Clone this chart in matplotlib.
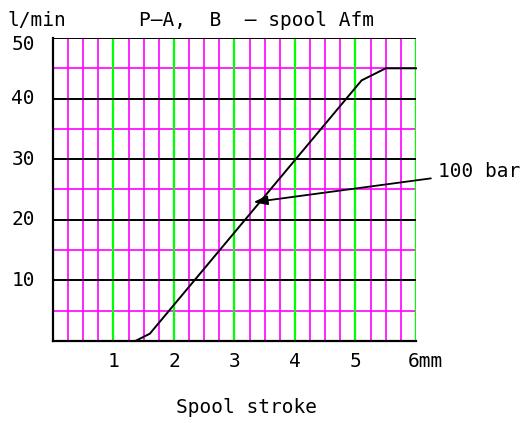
import matplotlib
matplotlib.use("Agg")
import matplotlib.pyplot as plt
import numpy as np

# Data
stroke_mm = [1.36, 1.60, 5.10, 5.50, 6.00]
flow_lpm = [0.0, 1.2, 43.0, 45.0, 45.0]
x_ticks = [1, 2, 3, 4, 5, 6]
x_tick_labels = ["1", "2", "3", "4", "5", "6mm"]
y_ticks = [10, 20, 30, 40, 50]
y_tick_labels = ["10", "20", "30", "40", "50"]
title = "P\u2013A,  B  \u2013 spool Afm"
y_unit = "l/min"
x_label = "Spool stroke"
note_text = "100 bar"
note_point = (3.31, 22.9)
note_text_pos = (6.36, 27.9)

MAG = "#ff00ff"
GRN = "#00ff00"
FONT = "DejaVu Sans Mono"
plt.rcParams["font.family"] = [FONT, "DejaVu Sans"]

fig = plt.figure(figsize=(5.2, 4.23), dpi=100)
ax = fig.add_axes([53/520, 1-341/423, (416-53)/520, (341-38)/423])
ax.set_xlim(0, 6)
ax.set_ylim(0, 50)

fs = 14
# vertical grid
for xv in np.arange(0.25, 6.01, 0.25):
    if abs(xv - round(xv)) < 1e-9:
        ax.axvline(xv, color=GRN, lw=1.6, zorder=2)
    else:
        ax.axvline(xv, color=MAG, lw=1.2, zorder=1)
# horizontal grid
for yv in np.arange(5, 50.1, 5):
    if yv % 10 == 0:
        ax.axhline(yv, color="black", lw=1.4, zorder=3)
    else:
        ax.axhline(yv, color=MAG, lw=1.2, zorder=1)

for s in ["top", "right"]:
    ax.spines[s].set_visible(False)
for s in ["left", "bottom"]:
    ax.spines[s].set_linewidth(1.6)
    ax.spines[s].set_zorder(4)

ax.set_xticks([])
ax.set_yticks([])
for yv, lab in zip(y_ticks, y_tick_labels):
    dy = -7 if yv == 50 else 0
    ax.annotate(lab, (0, yv), xytext=(-13, dy * 0.72), textcoords="offset points",
                ha="right", va="center", fontsize=fs, annotation_clip=False)

for xv, lab in zip(x_ticks, x_tick_labels):
    if lab.endswith("mm"):
        ax.annotate(lab, (xv, 0), xytext=(-6, -8), textcoords="offset points",
                    ha="left", va="top", fontsize=fs, annotation_clip=False)
    else:
        ax.annotate(lab, (xv, 0), xytext=(0, -8), textcoords="offset points",
                    ha="center", va="top", fontsize=fs, annotation_clip=False)

ax.plot(stroke_mm, flow_lpm, color="black", lw=1.4, zorder=5, clip_on=False)

ax.annotate(note_text, xy=note_point, xytext=note_text_pos, fontsize=fs,
            va="center", ha="left", annotation_clip=False,
            arrowprops=dict(arrowstyle="-|>,head_length=0.6,head_width=0.2",
                            color="black", lw=1.3,
                            mutation_scale=14, shrinkA=3, shrinkB=0),
            zorder=6)

fig.text(139/520, 1-20/423, title, ha="left", va="center", fontsize=fs)
fig.text(7/520, 1-20/423, y_unit, ha="left", va="center", fontsize=fs)
fig.text(246/520, 1-407/423, x_label, ha="center", va="center", fontsize=fs)

fig.savefig("out.png", dpi=100)
